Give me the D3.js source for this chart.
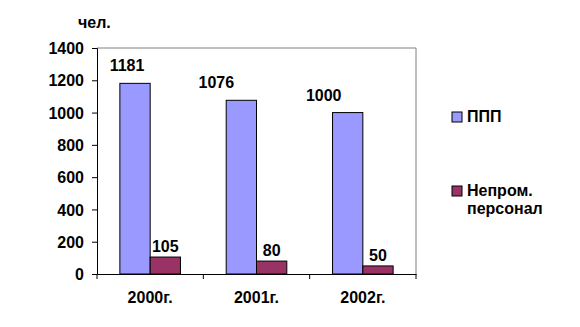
<!DOCTYPE html>
<html>
<head>
<meta charset="utf-8">
<script src="https://cdn.jsdelivr.net/npm/d3@7"></script>
<style>
  body { margin: 0; background: #fff; }
  text { font-family: "Liberation Sans", Arial, sans-serif; font-weight: bold; font-size: 16px; fill: #000; }
</style>
</head>
<body>
<svg id="chart" width="580" height="327"></svg>
<script>
const years = ["2000г.", "2001г.", "2002г."];
const seriesNames = ["ППП", "Непром. персонал"];
const ppp = [1181, 1076, 1000];
const nonProd = [105, 80, 50];
const yTicks = [0, 200, 400, 600, 800, 1000, 1200, 1400];

const colors = ["#9999ff", "#993366"];
const margin = {top: 48, left: 97, right: 164, bottom: 53};
const width = 580 - margin.left - margin.right;
const height = 327 - margin.top - margin.bottom;

const svg = d3.select("#chart");
const g = svg.append("g").attr("transform", `translate(${margin.left},${margin.top})`);

const x = d3.scaleBand().domain(years).range([0, width]).paddingInner(0).paddingOuter(0);
const xSub = d3.scaleBand().domain([0, 1]).range([x.bandwidth() * 0.215, x.bandwidth() * 0.785]);
const y = d3.scaleLinear().domain([0, 1400]).range([height, 0]);

// plot frame (top/right grey)
g.append("path")
    .attr("d", `M0,0H${width}V${height}`)
    .attr("fill", "none")
    .attr("stroke", "#808080")
    .attr("stroke-width", 1);

const data = years.map((yr, i) => ({year: yr, values: [ppp[i], nonProd[i]]}));

const groups = g.selectAll(".grp")
    .data(data)
    .enter()
  .append("g")
    .attr("transform", d => `translate(${x(d.year)},0)`);

groups.selectAll("rect")
    .data(d => d.values.map((v, k) => ({k, v})))
    .enter()
  .append("rect")
    .attr("x", d => xSub(d.k))
    .attr("y", d => y(d.v))
    .attr("width", xSub.bandwidth())
    .attr("height", d => height - y(d.v))
    .attr("fill", d => colors[d.k])
    .attr("stroke", "#000")
    .attr("stroke-width", 1);

// value labels
const labelShift = [[-8, 0], [-25, 0], [-24, 0]];
groups.each(function(d, i) {
    d3.select(this).selectAll(".lbl")
        .data(d.values.map((v, k) => ({k, v})))
        .enter()
      .append("text")
        .attr("text-anchor", "middle")
        .attr("x", e => xSub(e.k) + xSub.bandwidth() / 2 + labelShift[i][e.k])
        .attr("y", e => y(e.v) - (e.k === 0 ? 12 : 5))
        .text(e => e.v);
});

// y axis
const yAxis = g.append("g")
    .call(d3.axisLeft(y).tickValues(yTicks).tickSize(5).tickPadding(8).tickFormat(d3.format("d")));
yAxis.select(".domain").attr("stroke", "#000");
yAxis.selectAll(".tick text").attr("dy", "0.35em");

// x axis
const xAxis = g.append("g")
    .attr("transform", `translate(0,${height})`)
    .call(d3.axisBottom(x).tickSize(0).tickPadding(18));
xAxis.select(".domain").attr("stroke", "#000");
xAxis.selectAll(".xt")
    .data(d3.range(years.length + 1))
    .enter()
  .append("line")
    .attr("x1", i => i * x.bandwidth())
    .attr("x2", i => i * x.bandwidth())
    .attr("y1", 0)
    .attr("y2", 5)
    .attr("stroke", "#000");

svg.append("text")
    .attr("x", 78)
    .attr("y", 28)
    .text("чел.");

// legend
const legend = svg.append("g").attr("transform", "translate(452,112)");
const legendRows = [[seriesNames[0]], ["Непром.", "персонал"]];
legendRows.forEach((lines, i) => {
    const row = legend.append("g").attr("transform", `translate(0,${i * 74})`);
    row.append("rect")
        .attr("width", 10).attr("height", 10)
        .attr("fill", colors[i])
        .attr("stroke", "#000");
    lines.forEach((t, j) => {
        row.append("text")
            .attr("x", 15)
            .attr("y", 10 + j * 18)
            .text(t);
    });
});
</script>
</body>
</html>
